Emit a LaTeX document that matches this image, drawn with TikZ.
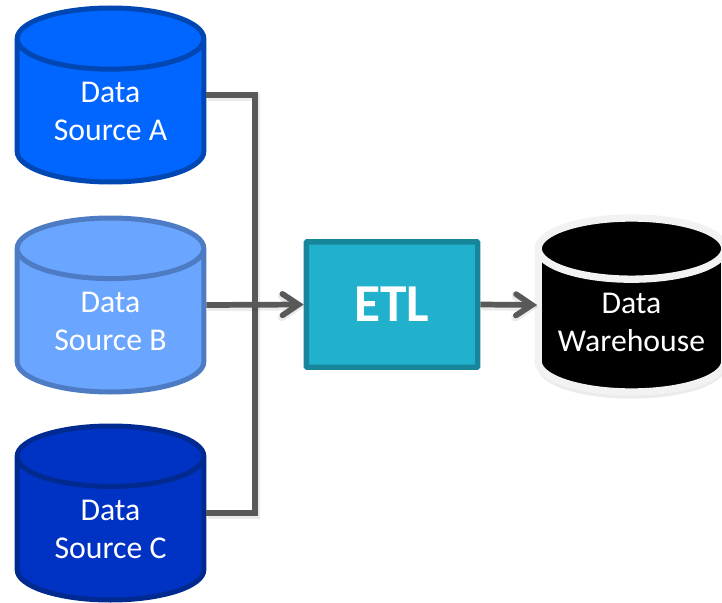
\documentclass[tikz,border=0pt]{standalone}
\usepackage{fontspec}
\setmainfont{Carlito}
\usetikzlibrary{shapes.geometric, arrows.meta, positioning, shadows}
\definecolor{source_a_fill}{HTML}{0066FF}
\definecolor{source_a_line}{HTML}{0047B3}
\definecolor{source_b_fill}{HTML}{6AA5FF}
\definecolor{source_b_line}{HTML}{4D7CC4}
\definecolor{source_c_fill}{HTML}{0033C4}
\definecolor{source_c_line}{HTML}{002A8F}
\definecolor{etl_fill}{HTML}{21B1CD}
\definecolor{etl_line}{HTML}{17869B}
\definecolor{wire_color}{HTML}{595959}
\tikzset{
  db_font/.style = {font=\fontsize{23.8}{28.5}\selectfont},
  db/.style = {db_font, cylinder, shape border rotate=90, shape aspect=0.54, align=center, text=white, anchor=shape center,
    minimum width=140pt, minimum height=130.5pt, inner sep=0, line width=3.75pt, cylinder uses custom fill},
  source_a_db/.style = {db, draw=source_a_line, cylinder body fill=source_a_fill, cylinder end fill=source_a_fill},
  source_b_db/.style = {db, draw=source_b_line, cylinder body fill=source_b_fill, cylinder end fill=source_b_fill},
  source_c_db/.style = {db, draw=source_c_line, cylinder body fill=source_c_fill, cylinder end fill=source_c_fill},
  warehouse_db/.style = {db, draw=black!5, line width=5.5pt, cylinder body fill=black, cylinder end fill=black,
    drop shadow={shadow xshift=0pt, shadow yshift=-5pt, opacity=.08, fill=black},
    drop shadow={shadow xshift=0pt, shadow yshift=-2.5pt, opacity=.12, fill=black}},
  etl_block/.style = {draw=etl_line, fill=etl_fill, line width=4pt, rounded corners=0.5pt, text=white,
    minimum width=128.5pt, minimum height=94pt, font=\fontsize{40}{44}\selectfont\bfseries},
  wire_shadow/.style = {preaction={draw=black, opacity=.08, line width=6pt, transform canvas={shift={(1pt,-1.5pt)}}}},
  wire/.style = {draw=wire_color, line width=4.3pt, wire_shadow},
  arrow/.style = {wire, -{Straight Barb[length=12pt,width=16pt,line cap=round]}}
}
\begin{document}
\begin{tikzpicture}[x=0.75pt, y=-0.75pt]
    \useasboundingbox (0,0) rectangle (722,603);

    % Sources
    \node[source_a_db] at (110.5,95) (source_a) {Data \\ Source A};
    \node[source_b_db] at (110.5,305) (source_b) {Data \\ Source B};
    \node[source_c_db] at (110.5,513) (source_c) {Data \\ Source C};

    % Blocks
    \node[etl_block] at (392,304.5) (etl) {ETL};
    \node[warehouse_db] at (631.5,305) (warehouse) {Data \\ \makebox[85pt]{Warehouse}};

    % Arrows and lines
    \coordinate (bus) at (255,305);
    \draw[wire] (source_a.shape center -| source_a.east) -| (bus) |- (source_c.shape center -| source_c.east);
    \draw[arrow] (source_b.shape center -| source_b.east)--(etl.west);
    \draw[arrow, shorten >=-2pt] (etl.east)--(warehouse.shape center -| warehouse.west);
\end{tikzpicture}
\end{document}
